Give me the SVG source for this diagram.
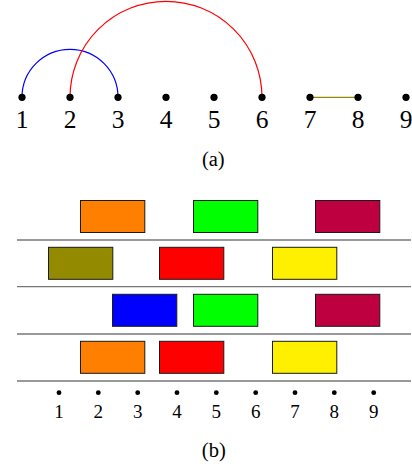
<svg xmlns="http://www.w3.org/2000/svg" width="412" height="469" viewBox="0 0 412 469">
<style>
text{font-family:'Liberation Serif','Times New Roman',Times,serif;fill:#000;text-anchor:middle}
.big{font-size:25.5px}
.small{font-size:19px}
.cap{font-size:20.5px}
.box{stroke:#1a1a1a;stroke-width:1}
.sep{stroke:#777;stroke-width:1.3}
</style>
<rect width="412" height="469" fill="#fff"/>
<g id="connectors" fill="none" stroke-width="1.2">
<path d="M22 97.3 A48 48 0 0 1 118 97.3" stroke="#0000ff"/>
<path d="M70 97.3 A96 96 0 0 1 262 97.3" stroke="#ff0000"/>
<line x1="310" y1="97.3" x2="358" y2="97.3" stroke="#948a00"/>
</g>
<g id="nodes-a">
<g id="a1"><circle cx="22" cy="97.3" r="3.6"/><text class="big" x="22" y="128.3">1</text></g>
<g id="a2"><circle cx="70" cy="97.3" r="3.6"/><text class="big" x="70" y="128.3">2</text></g>
<g id="a3"><circle cx="118" cy="97.3" r="3.6"/><text class="big" x="118" y="128.3">3</text></g>
<g id="a4"><circle cx="166" cy="97.3" r="3.6"/><text class="big" x="166" y="128.3">4</text></g>
<g id="a5"><circle cx="214" cy="97.3" r="3.6"/><text class="big" x="214" y="128.3">5</text></g>
<g id="a6"><circle cx="262" cy="97.3" r="3.6"/><text class="big" x="262" y="128.3">6</text></g>
<g id="a7"><circle cx="310" cy="97.3" r="3.6"/><text class="big" x="310" y="128.3">7</text></g>
<g id="a8"><circle cx="358" cy="97.3" r="3.6"/><text class="big" x="358" y="128.3">8</text></g>
<g id="a9"><circle cx="406" cy="97.3" r="3.6"/><text class="big" x="406" y="128.3">9</text></g>
</g>
<text id="cap-a" class="cap" x="213.3" y="165.8">(a)</text>
<g id="separators">
<line class="sep" x1="17" y1="240" x2="411" y2="240"/>
<line class="sep" x1="17" y1="286.7" x2="411" y2="286.7"/>
<line class="sep" x1="17" y1="334" x2="411" y2="334"/>
<line class="sep" x1="17" y1="381" x2="411" y2="381"/>
</g>
<g id="row1">
<rect class="box" x="80.5" y="200.5" width="64.3" height="32" fill="#ff8000"/>
<rect class="box" x="193.5" y="200.5" width="64.3" height="32" fill="#00ff00"/>
<rect class="box" x="315.5" y="200.5" width="64.3" height="32" fill="#bf0040"/>
</g>
<g id="row2">
<rect class="box" x="48.5" y="247.3" width="64.3" height="32" fill="#948a00"/>
<rect class="box" x="159.5" y="247.3" width="64.3" height="32" fill="#ff0000"/>
<rect class="box" x="272.5" y="247.3" width="64.3" height="32" fill="#fff000"/>
</g>
<g id="row3">
<rect class="box" x="112.5" y="294.3" width="64.3" height="32" fill="#0000ff"/>
<rect class="box" x="193.5" y="294.3" width="64.3" height="32" fill="#00ff00"/>
<rect class="box" x="315.5" y="294.3" width="64.3" height="32" fill="#bf0040"/>
</g>
<g id="row4">
<rect class="box" x="80.5" y="341.3" width="64.3" height="32" fill="#ff8000"/>
<rect class="box" x="159.5" y="341.3" width="64.3" height="32" fill="#ff0000"/>
<rect class="box" x="272.5" y="341.3" width="64.3" height="32" fill="#fff000"/>
</g>
<g id="nodes-b">
<g id="b1"><circle cx="59" cy="392.7" r="2.4"/><text class="small" x="59" y="418.3">1</text></g>
<g id="b2"><circle cx="98.3" cy="392.7" r="2.4"/><text class="small" x="98.3" y="418.3">2</text></g>
<g id="b3"><circle cx="137.7" cy="392.7" r="2.4"/><text class="small" x="137.7" y="418.3">3</text></g>
<g id="b4"><circle cx="177" cy="392.7" r="2.4"/><text class="small" x="177" y="418.3">4</text></g>
<g id="b5"><circle cx="216.3" cy="392.7" r="2.4"/><text class="small" x="216.3" y="418.3">5</text></g>
<g id="b6"><circle cx="255.7" cy="392.7" r="2.4"/><text class="small" x="255.7" y="418.3">6</text></g>
<g id="b7"><circle cx="295" cy="392.7" r="2.4"/><text class="small" x="295" y="418.3">7</text></g>
<g id="b8"><circle cx="334.3" cy="392.7" r="2.4"/><text class="small" x="334.3" y="418.3">8</text></g>
<g id="b9"><circle cx="373.7" cy="392.7" r="2.4"/><text class="small" x="373.7" y="418.3">9</text></g>
</g>
<text id="cap-b" class="cap" x="213.8" y="457.2">(b)</text>
</svg>
